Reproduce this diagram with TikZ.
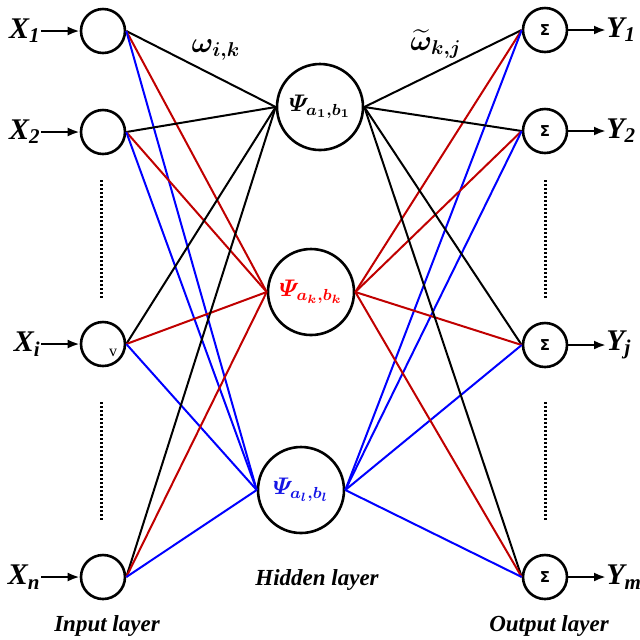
\documentclass[tikz,border=0pt]{standalone}
\usepackage{fontspec}
\setmainfont{Liberation Serif}
\newfontfamily\sigmafont{DejaVu Sans}
\usepackage{amsmath,bm}
\usetikzlibrary{arrows.meta}
\definecolor{wred}{RGB}{192,0,0}
\definecolor{tred}{RGB}{255,0,0}
\definecolor{wblue}{RGB}{0,0,255}
\definecolor{tblue}{RGB}{20,20,230}

\begin{document}
\begin{tikzpicture}[x=0.5pt,y=-0.5pt]
      \tikzstyle{inp}=[circle,draw,line width=1.3pt,minimum size=22pt,inner sep=0pt]
      \tikzstyle{hid}=[circle,draw,line width=1.3pt,minimum size=43pt,inner sep=0pt,font=\fontsize{12}{14}\selectfont]
      \tikzstyle{outp}=[inp,font=\sigmafont\bfseries\fontsize{7.5}{9}\selectfont]
      \tikzstyle{lab}=[font=\bfseries\itshape\fontsize{15}{18}\selectfont,inner sep=0pt]
      \tikzstyle{layer}=[font=\bfseries\itshape\fontsize{11.5}{14}\selectfont]
      \tikzstyle{weight}=[font=\fontsize{14}{16}\selectfont]
      \tikzstyle{feed}=[-{Latex[length=6pt,width=4.5pt]},line width=1.3pt]
      \tikzstyle{link}=[line width=1pt]
      \tikzstyle{dots}=[line width=1.5pt,dash pattern=on 1pt off 1pt]
      \useasboundingbox (0,0) rectangle (640,639);
      % input layer
      \node[inp] (x1) at (103,31) {};
      \node[inp] (x2) at (103,132) {};
      \node[inp] (xi) at (103,344) {};
      \node[inp] (xn) at (103,577) {};
      \node[font=\fontsize{8}{9}\selectfont,inner sep=0pt] (vmark) at (113,353) {v};
      \node[lab,anchor=east] (lx1) at (41,31) {X\textsubscript{1}};
      \node[lab,anchor=east] (lx2) at (41,132) {X\textsubscript{2}};
      \node[lab,anchor=east] (lxi) at (41,344) {X\textsubscript{i}};
      \node[lab,anchor=east] (lxn) at (41,577) {X\textsubscript{n}};
      \foreach \i in {x1,x2,xi,xn}
        \draw[feed] (l\i.east) -- (\i.west);
      % hidden layer
      \node[hid] (h1) at (320,107) {$\bm{\varPsi_{a_1,b_1}}$};
      \node[hid,text=tred] (hk) at (311,292) {$\bm{\varPsi_{a_k,b_k}}$};
      \node[hid,text=tblue] (hl) at (301,490) {$\bm{\varPsi_{a_l,b_l}}$};
      % output layer
      \node[outp] (y1) at (545,30) {Σ};
      \node[outp] (y2) at (545,131) {Σ};
      \node[outp] (yj) at (545,345) {Σ};
      \node[outp] (ym) at (545,577) {Σ};
      \node[lab,anchor=west] (ly1) at (606,30) {Y\textsubscript{1}};
      \node[lab,anchor=west] (ly2) at (606,131) {Y\textsubscript{2}};
      \node[lab,anchor=west] (lyj) at (606,345) {Y\textsubscript{j}};
      \node[lab,anchor=west] (lym) at (606,577) {Y\textsubscript{m}};
      \foreach \o in {y1,y2,yj,ym}
        \draw[feed] (\o.east) -- (l\o.west);
      % weights
      \foreach \i in {x1,x2,xi,xn} {
        \draw[link] (\i.east) -- (h1.west);
        \draw[link,wred] (\i.east) -- (hk.west);
        \draw[link,wblue] (\i.east) -- (hl.west);
      }
      \foreach \o in {y1,y2,yj,ym} {
        \draw[link] (h1.east) -- (\o.west);
        \draw[link,wred] (hk.east) -- (\o.west);
        \draw[link,wblue] (hl.east) -- (\o.west);
      }
      \node[weight] (wik) at (216,50) {$\bm{\omega_{i,k}}$};
      \node[weight] (wkj) at (436,44) {$\bm{\widetilde{\omega}_{k,j}}$};
      % dots
      \draw[dots] (101,180) -- (101,300);
      \draw[dots] (101,402) -- (101,522);
      \draw[dots] (545,180) -- (545,300);
      \draw[dots] (545,402) -- (545,522);
      % layer names
      \node[layer] (hname) at (317,580) {Hidden layer};
      \node[layer] (iname) at (107,626) {Input layer};
      \node[layer] (oname) at (549,626) {Output layer};
\end{tikzpicture}
\end{document}
